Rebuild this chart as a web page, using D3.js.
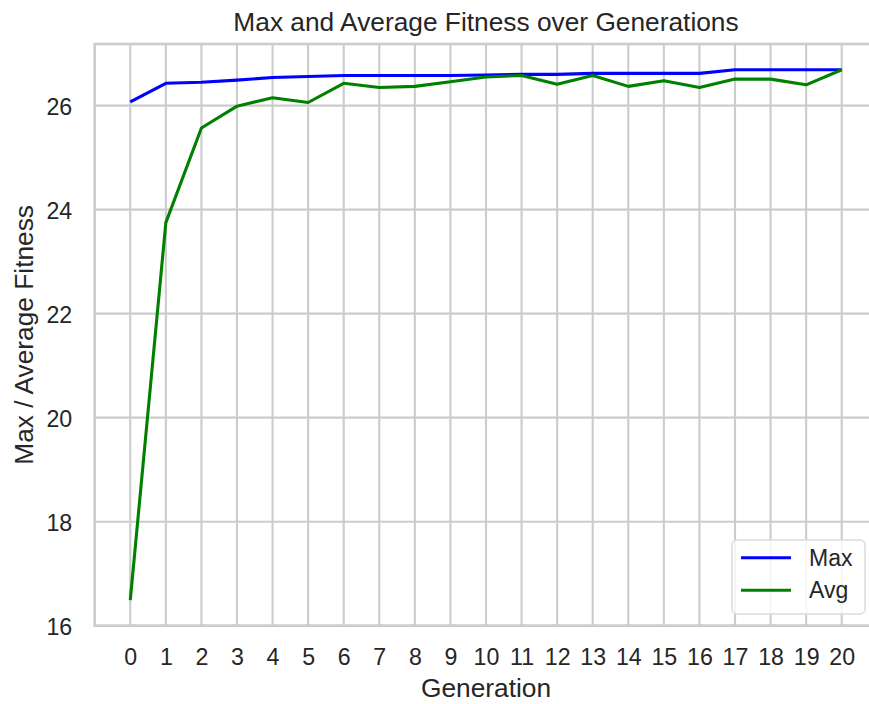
<!DOCTYPE html>
<html>
<head>
<meta charset="utf-8">
<script src="https://cdn.jsdelivr.net/npm/d3@7"></script>
<style>
  html, body { margin: 0; padding: 0; background: #fff; }
  svg { display: block; font-family: "Liberation Sans", Arial, sans-serif; }
</style>
</head>
<body>
<svg id="chart" width="869" height="704"></svg>
<script>
const generations = [0,1,2,3,4,5,6,7,8,9,10,11,12,13,14,15,16,17,18,19,20];
const maxFitness = [26.07,26.43,26.45,26.49,26.54,26.56,26.58,26.58,26.58,26.58,26.59,26.60,26.60,26.62,26.62,26.62,26.62,26.69,26.69,26.69,26.69];
const avgFitness = [16.49,23.75,25.57,25.99,26.15,26.06,26.43,26.35,26.37,26.46,26.55,26.58,26.41,26.58,26.37,26.48,26.35,26.51,26.51,26.40,26.69];
const yTicks = [16,18,20,22,24,26];
const seriesNames = ["Max","Avg"];
const seriesColors = ["#0000ff","#008000"];

const svg = d3.select("#chart");
const pLeft = 94.7, pRight = 877.3, pTop = 44, pBottom = 625.7;

const x = d3.scaleLinear().domain([-1, 21]).range([pLeft, pRight]);
const y = d3.scaleLinear().domain([16, 27.185]).range([pBottom, pTop]);

const textColor = "#262626";
const gridColor = "#cccccc";
const tickSize = 23.2, labelSize = 26.3, legendSize = 23;

// gridlines
const g = svg.append("g");
g.selectAll("line.vg").data(generations).join("line")
  .attr("x1", d => x(d)).attr("x2", d => x(d))
  .attr("y1", pTop).attr("y2", pBottom)
  .attr("stroke", gridColor).attr("stroke-width", 2.1);
g.selectAll("line.hg").data(yTicks).join("line")
  .attr("x1", pLeft).attr("x2", pRight)
  .attr("y1", d => y(d)).attr("y2", d => y(d))
  .attr("stroke", gridColor).attr("stroke-width", 2.1);

// frame
svg.append("rect")
  .attr("x", pLeft).attr("y", pTop)
  .attr("width", pRight - pLeft).attr("height", pBottom - pTop)
  .attr("fill", "none").attr("stroke", gridColor).attr("stroke-width", 2.6);

// axes (labels only)
const xAxis = d3.axisBottom(x).tickValues(generations).tickSize(0).tickPadding(0).tickFormat(d3.format("d"));
const xa = svg.append("g").attr("transform", `translate(0,${pBottom})`).call(xAxis);
xa.select(".domain").remove();
xa.selectAll("text").attr("y", 39.3).attr("dy", null)
  .attr("font-size", tickSize).attr("fill", textColor)
  .style("font-family", "'Liberation Sans', Arial, sans-serif");

const yAxis = d3.axisLeft(y).tickValues(yTicks).tickSize(0).tickPadding(0).tickFormat(d3.format("d"));
const ya = svg.append("g").attr("transform", `translate(${pLeft},0)`).call(yAxis);
ya.select(".domain").remove();
ya.selectAll("text").attr("x", -22.5).attr("dy", "0.4em")
  .attr("font-size", tickSize).attr("fill", textColor)
  .style("font-family", "'Liberation Sans', Arial, sans-serif");

// lines
const series = [maxFitness, avgFitness];
const line = d3.line().x((d, i) => x(generations[i])).y(d => y(d));
series.forEach((s, k) => {
  svg.append("path").datum(s)
    .attr("d", line)
    .attr("fill", "none")
    .attr("stroke", seriesColors[k])
    .attr("stroke-width", 3.1)
    .attr("stroke-linejoin", "round")
    .attr("stroke-linecap", "butt");
});

// title
svg.append("text")
  .attr("x", (pLeft + pRight) / 2).attr("y", 30.5)
  .attr("text-anchor", "middle").attr("font-size", labelSize).attr("fill", textColor)
  .text("Max and Average Fitness over Generations");

// x label
svg.append("text")
  .attr("x", (pLeft + pRight) / 2).attr("y", 696.5)
  .attr("text-anchor", "middle").attr("font-size", labelSize).attr("fill", textColor)
  .text("Generation");

// y label
svg.append("text")
  .attr("transform", `translate(33,${(pTop + pBottom) / 2}) rotate(-90)`)
  .attr("text-anchor", "middle").attr("font-size", labelSize).attr("fill", textColor)
  .text("Max / Average Fitness");

// legend
const lg = svg.append("g");
lg.append("rect")
  .attr("x", 732).attr("y", 540).attr("width", 133).attr("height", 74)
  .attr("rx", 5).attr("ry", 5)
  .attr("fill", "rgba(255,255,255,0.8)")
  .attr("stroke", "#dcdcdc").attr("stroke-width", 1.5);
seriesNames.forEach((name, k) => {
  const yy = 557.7 + k * 32.5;
  lg.append("line").attr("x1", 741).attr("x2", 791).attr("y1", yy).attr("y2", yy)
    .attr("stroke", seriesColors[k]).attr("stroke-width", 3.1);
  lg.append("text").attr("x", 809).attr("y", yy).attr("dy", "0.36em")
    .attr("font-size", legendSize).attr("fill", textColor).text(name);
});
</script>
</body>
</html>
